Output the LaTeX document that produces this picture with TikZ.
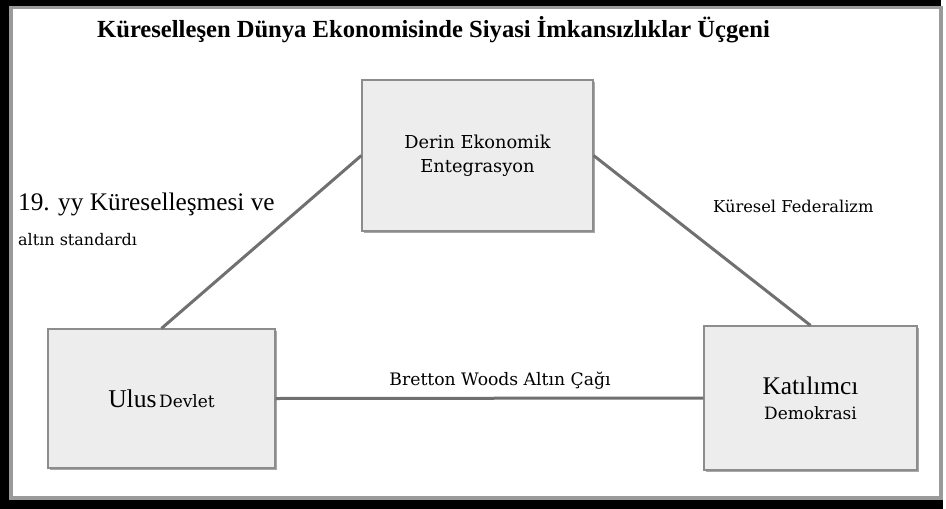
\documentclass[tikz,border=0pt]{standalone}
\usepackage{fontspec}
\setmainfont{Liberation Serif}
\newfontfamily\smallserif{DejaVu Serif}
\definecolor{boxfill}{HTML}{EDEDED}
\definecolor{boxline}{HTML}{8C8C8C}
\definecolor{shadowc}{HTML}{A8A8A8}
\definecolor{linkc}{HTML}{707070}
\definecolor{framegray}{HTML}{9A9A9A}
\begin{document}
\begin{tikzpicture}[x=1pt,y=-1pt,
  boxst/.style={draw=boxline, line width=1.2pt, fill=boxfill, inner sep=0pt, align=center},
  linkst/.style={draw=linkc, line width=3pt},
  lbl/.style={inner sep=0pt}]
% canvas and frame
\fill[white] (0,0) rectangle (946,509);
\useasboundingbox (0,0) rectangle (946,509);
\fill[black] (0,0) rectangle (941,6);
\fill[black] (0,0) rectangle (9,509);
\fill[black] (0,500) rectangle (943,509);
\fill[framegray] (9,6) rectangle (941,9);
\fill[framegray] (9,6) rectangle (13,500);
\fill[framegray] (9,496) rectangle (943,500);
\fill[framegray] (939,6) rectangle (943,500);
% title
\node[lbl, anchor=base west, font=\bfseries\fontsize{24.6}{28}\selectfont] (title) at (97,37)
  {Küreselleşen Dünya Ekonomisinde Siyasi İmkansızlıklar Üçgeni};
% shadows
\fill[shadowc] (364,82) rectangle (595,233);
\fill[shadowc] (50,331) rectangle (277,470);
\fill[shadowc] (706,328) rectangle (919,472);
% boxes
\node[boxst, minimum width=231pt, minimum height=151pt, font=\smallserif\fontsize{17.8}{24}\selectfont] (top) at (477.5,155.5)
  {Derin Ekonomik\\Entegrasyon};
\node[boxst, minimum width=227pt, minimum height=139pt] (ulus) at (161.5,398.5)
  {{\fontsize{25.6}{28}\selectfont Ulus} {\smallserif\fontsize{17}{20}\selectfont Devlet}};
\node[boxst, minimum width=213pt, minimum height=144pt, font=\fontsize{17}{25}\selectfont] (kat) at (810.5,398)
  {{\fontsize{25.4}{25}\selectfont Katılımcı}\\{\smallserif\fontsize{17}{25}\selectfont Demokrasi}};
% connectors
\draw[linkst] (top.west) -- (ulus.north);
\draw[linkst] (top.east) -- (kat.north);
\draw[linkst] (ulus.east) -- (kat.west);
% labels
\node[lbl, anchor=base west, font=\fontsize{25.3}{28}\selectfont] (l19) at (18,210) {19. yy Küreselleşmesi ve};
\node[lbl, anchor=base west, font=\smallserif\fontsize{16}{18}\selectfont] (laltin) at (18,245) {altın standardı};
\node[lbl, anchor=base west, font=\smallserif\fontsize{16.3}{18}\selectfont] (lfed) at (713,212) {Küresel Federalizm};
\node[lbl, anchor=base, font=\smallserif\fontsize{17.2}{20}\selectfont] (lbw) at (500,385) {Bretton Woods Altın Çağı};
\end{tikzpicture}
\end{document}
